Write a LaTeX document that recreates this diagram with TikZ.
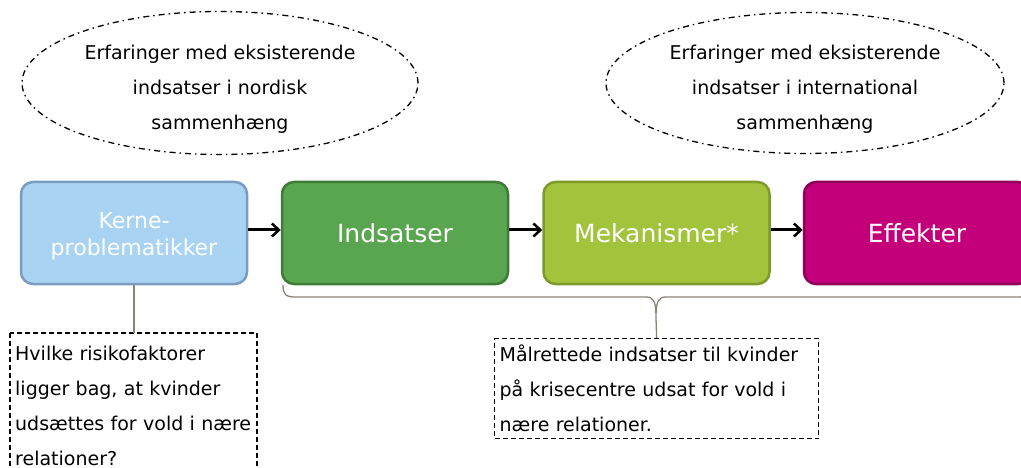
\documentclass[tikz,border=0pt]{standalone}
\usepackage{fontspec}
\setmainfont{DejaVu Sans}
\usetikzlibrary{arrows.meta,shapes.geometric}
\definecolor{kfill}{HTML}{A9D3F3}
\definecolor{kdraw}{HTML}{7B9CC0}
\definecolor{ifill}{HTML}{5AA550}
\definecolor{idraw}{HTML}{3E7B36}
\definecolor{mfill}{HTML}{A2C33C}
\definecolor{mdraw}{HTML}{7E9A2B}
\definecolor{efill}{HTML}{C3007A}
\definecolor{edraw}{HTML}{8E0058}
\definecolor{bracecol}{HTML}{8A8474}
\tikzset{
  stage/.style={rounded corners=12pt, line width=2.5pt, minimum width=226pt, minimum height=102pt,
    text=white, align=center, font=\fontsize{25}{28}\selectfont},
  cloud/.style={ellipse, draw, line width=1.3pt, dash pattern=on 6pt off 4pt on 1.5pt off 4pt},
  cloudtext/.style={align=center, font=\fontsize{19}{35}\selectfont},
  notetext/.style={align=left, font=\fontsize{19}{35}\selectfont, inner sep=5pt},
  notebox/.style={draw, line width=1.3pt, dash pattern=on 5pt off 3pt},
  flow/.style={line width=3pt, -{Straight Barb[length=7pt,width=13pt,line width=2.5pt]}},
  link/.style={draw=bracecol, line width=1.3pt},
}
\begin{document}
\begin{tikzpicture}[x=1pt,y=-1pt]
\useasboundingbox (0,0) rectangle (1021,468);
\node[cloud, minimum width=396pt, minimum height=143pt] (c1) at (220,83) {};
\node[cloudtext] (t1) at (220,89)
  {Erfaringer med eksisterende\\indsatser i nordisk\\sammenhæng};
\node[cloud, minimum width=398pt, minimum height=141pt] (c2) at (805,83) {};
\node[cloudtext] (t2) at (805,89)
  {Erfaringer med eksisterende\\indsatser i international\\sammenhæng};
\node[stage, fill=kfill, draw=kdraw,
  label={[text=white, align=center, font=\fontsize{22}{27}\selectfont, yshift=-3pt]center:Kerne-\\problematikker}]
  (k) at (134,233) {};
\node[stage, fill=ifill, draw=idraw] (i) at (395,233) {Indsatser};
\node[stage, fill=mfill, draw=mdraw] (m) at (656.5,233) {Mekanismer*};
\node[stage, fill=efill, draw=edraw] (e) at (917,233) {Effekter};
\draw[flow] (k.east |- 0,230) -- (i.west |- 0,230);
\draw[flow] (i.east |- 0,230) -- (m.west |- 0,230);
\draw[flow] (m.east |- 0,230) -- (e.west |- 0,230);
\coordinate (q1corner) at (10,333);
\coordinate (q1end) at (257,480);
\node[notetext, anchor=north west, text width=237pt] (q1) at (10,341)
  {Hvilke risikofaktorer\\ligger bag, at kvinder\\udsættes for vold i nære\\relationer?};
\draw[notebox] (q1corner) rectangle (q1end);
\node[notetext, notebox, anchor=north west, text width=314pt, minimum height=100pt] (q2) at (494,338)
  {Målrettede indsatser til kvinder\\på krisecentre udsat for vold i\\nære relationer.};
\draw[link] (k.south) -- (k.south |- q1corner);
\coordinate (bl) at (283,285);
\coordinate (br) at (1030,285);
\coordinate (bt) at (656,318);
\draw[link] (bl) .. controls (283,295) and (286,297) .. (296,297) -- (646,297)
  .. controls (653,297) and (656,300) .. (bt)
  .. controls (656,300) and (659,297) .. (666,297) -- (1017,297)
  .. controls (1027,297) and (1030,295) .. (br);
\draw[link] (bt) -- (q2.north);
\end{tikzpicture}
\end{document}
